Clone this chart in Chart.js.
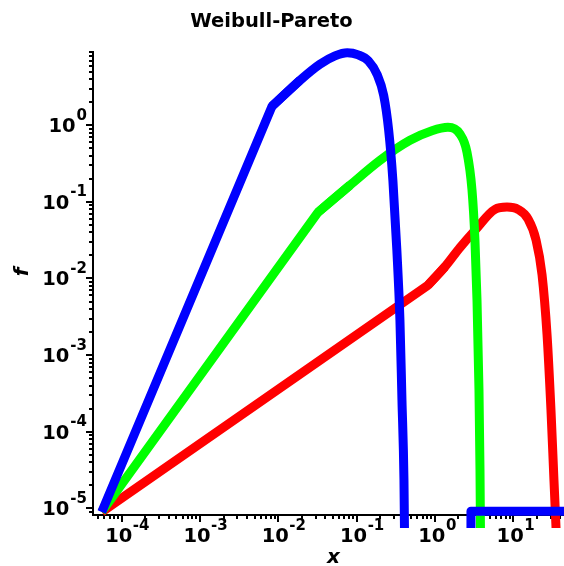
<!DOCTYPE html>
<html>
<head>
<meta charset="utf-8">
<script src="https://cdn.jsdelivr.net/npm/chart.js@4/dist/chart.umd.min.js"></script>
<style>
  html, body { margin: 0; padding: 0; background: #ffffff; }
  #wrap { width: 564px; height: 566px; }
</style>
</head>
<body>
<div id="wrap"><canvas id="c" width="564" height="566"></canvas></div>
<script>
// Labels
const chartTitle = 'Weibull-Pareto';
const xAxisTitle = 'x';
const yAxisTitle = 'f';

// Decade exponents that carry a "10^n" tick label
const xDecades = [-4, -3, -2, -1, 0, 1];
const yDecades = [-5, -4, -3, -2, -1, 0];

// Axis extents
const xRange = [4.3e-5, 44.6];
const yRange = [8.17e-6, 9.06];

// Blue density: power-law rise, then the hump and the sharp cutoff
const blueRiseX = [5.56e-5, 0.00832, 0.0189];
const blueRiseY = [8.95e-6, 1.77, 3.86];
const blueBendX = [0.00832, 0.0189, 0.034, 0.053, 0.0760, 0.105, 0.142, 0.1830, 0.222, 0.257, 0.291, 0.327, 0.358, 0.380, 0.403, 0.409];
const blueBendY = [1.77, 3.86, 6.26, 8.05, 8.85, 8.30, 6.90, 4.60, 2.46, 0.861, 0.191, 0.0233, 0.00285, 2.57e-4, 2.32e-5, 5.5e-6];
// Blue floor piece at the bottom right
const blueTailX = [2.89, 2.89, 60];
const blueTailY = [5.5e-6, 9.14e-6, 9.14e-6];

// Green density
const greenRiseX = [5.56e-5, 0.0321, 0.0822];
const greenRiseY = [8.95e-6, 0.0731, 0.165];
const greenBendX = [0.0321, 0.0822, 0.199, 0.481, 0.918, 1.47, 2.09, 2.57, 2.98, 3.25, 3.45, 3.66, 3.77, 3.82];
const greenBendY = [0.0731, 0.165, 0.349, 0.637, 0.850, 0.942, 0.770, 0.447, 0.143, 0.0318, 0.00534, 3.5e-4, 3.2e-5, 5.5e-6];

// Red density
const redRiseX = [5.56e-5, 0.816, 1.35];
const redRiseY = [8.95e-6, 0.00815, 0.0143];
const redBendX = [0.816, 1.35, 2.09, 3.26, 5.86, 8.34, 11.5, 15.5, 19.6, 23.4, 27.1, 30.4, 33.2, 35.3];
const redBendY = [0.00815, 0.0143, 0.0253, 0.0427, 0.0800, 0.0855, 0.0800, 0.0598, 0.0318, 0.0111, 0.00183, 1.92e-4, 2.32e-5, 5.5e-6];

const BLUE = '#0000ff', GREEN = '#00ff00', RED = '#ff0000';
const FONT = '"DejaVu Sans", "Liberation Sans", sans-serif';

const pts = (xs, ys) => xs.map((x, i) => ({ x: x, y: ys[i] }));

function series(xs, ys, color, smooth) {
  return {
    data: pts(xs, ys),
    borderColor: color,
    backgroundColor: color,
    borderWidth: 9,
    pointRadius: 0,
    pointHoverRadius: 0,
    fill: false,
    tension: 0,
    cubicInterpolationMode: smooth ? 'monotone' : 'default',
    borderJoinStyle: 'round',
    borderCapStyle: 'butt',
    clip: { left: 6, top: 10, right: 6, bottom: 13 }
  };
}

// Outward ticks, "10^n" labels and titles
const decor = {
  id: 'decor',
  beforeDatasetsDraw(chart) {
    const { ctx, chartArea: a, scales } = chart;
    const xs = scales.x, ys = scales.y;
    ctx.save();
    ctx.strokeStyle = '#000';
    ctx.fillStyle = '#000';
    ctx.lineWidth = 2;
    ctx.lineCap = 'butt';
    const seg = (x1, y1, x2, y2) => { ctx.beginPath(); ctx.moveTo(x1, y1); ctx.lineTo(x2, y2); ctx.stroke(); };

    for (let e = -7; e <= 3; e++) {
      for (let k = 1; k <= 9; k++) {
        const v = k * Math.pow(10, e);
        const len = k === 1 ? 7 : 4;
        if (v >= xs.min && v <= xs.max) {
          const p = Math.round(xs.getPixelForValue(v));
          seg(p, a.bottom, p, a.bottom + len);
        }
        if (v >= ys.min && v <= ys.max) {
          const p = Math.round(ys.getPixelForValue(v));
          seg(a.left - len, p, a.left, p);
        }
      }
    }

    const baseFont = 'bold 19.5px ' + FONT;
    const supFont = 'bold 15px ' + FONT;
    ctx.textAlign = 'left';
    ctx.textBaseline = 'alphabetic';

    xDecades.forEach(e => {
      const p = xs.getPixelForValue(Math.pow(10, e));
      ctx.font = baseFont;
      const w = ctx.measureText('10').width;
      const left = p - 3 - w / 2;
      ctx.fillText('10', left, 542);
      ctx.font = supFont;
      ctx.fillText(String(e), left + w + 0.5, 530);
    });

    yDecades.forEach(e => {
      const p = ys.getPixelForValue(Math.pow(10, e));
      const s = String(e);
      ctx.font = supFont;
      const sw = ctx.measureText(s).width;
      const supLeft = 87 - sw;
      ctx.fillText(s, supLeft, p - 5.5);
      ctx.font = baseFont;
      const w = ctx.measureText('10').width;
      ctx.fillText('10', supLeft - 1 - w, p + 7);
    });

    ctx.textAlign = 'center';
    ctx.font = 'bold 19.5px ' + FONT;
    ctx.fillText(chartTitle, 271.5, 26.5);

    ctx.font = 'italic bold 20px ' + FONT;
    ctx.fillText(xAxisTitle, 333.5, 563);

    ctx.save();
    ctx.translate(28, 272);
    ctx.rotate(-Math.PI / 2);
    ctx.fillText(yAxisTitle, 0, 0);
    ctx.restore();

    ctx.restore();
  }
};

new Chart(document.getElementById('c'), {
  type: 'line',
  data: {
    datasets: [
      series(blueRiseX, blueRiseY, BLUE, false),
      series(blueBendX, blueBendY, BLUE, true),
      series(blueTailX, blueTailY, BLUE, false),
      series(greenRiseX, greenRiseY, GREEN, false),
      series(greenBendX, greenBendY, GREEN, true),
      series(redRiseX, redRiseY, RED, false),
      series(redBendX, redBendY, RED, true)
    ]
  },
  options: {
    responsive: false,
    devicePixelRatio: 1,
    animation: false,
    events: [],
    layout: { padding: { top: 52, left: 0, right: 0, bottom: 0 } },
    plugins: {
      legend: { display: false },
      title: { display: false },
      tooltip: { enabled: false }
    },
    scales: {
      x: {
        type: 'logarithmic',
        min: xRange[0],
        max: xRange[1],
        grid: { display: false },
        border: { display: true, color: '#000', width: 2 },
        ticks: { display: false },
        afterFit(s) { s.height = 51; }
      },
      y: {
        type: 'logarithmic',
        min: yRange[0],
        max: yRange[1],
        grid: { display: false },
        border: { display: true, color: '#000', width: 2 },
        ticks: { display: false },
        afterFit(s) { s.width = 93; }
      }
    }
  },
  plugins: [decor]
});
</script>
</body>
</html>
